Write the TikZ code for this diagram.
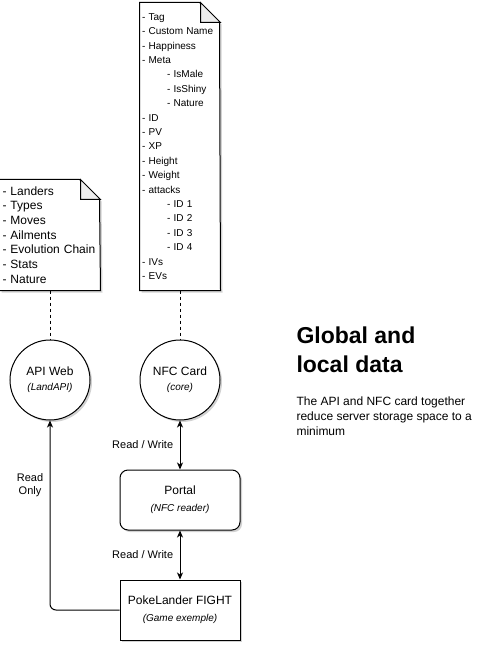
\documentclass[tikz,border=0pt]{standalone}
\usepackage{fontspec}
\setmainfont{Liberation Sans}
\usetikzlibrary{arrows.meta,positioning,shadows}

\newcommand\pxfont[2]{\fontsize{#1}{#2}\selectfont}
\newcommand\subline[1]{{\pxfont{10}{12}\itshape #1}}
\newcommand\sub{\hspace*{25pt}}

\tikzset{
  boxshadow/.style={drop shadow={shadow xshift=2pt,shadow yshift=-2pt,opacity=.25,fill=black!70}},
  notetext/.style={inner sep=0pt,align=left},
  notepath/.style={draw,fill=white,boxshadow},
  notefold/.style={draw,fill=black!7},
  datacircle/.style={circle,draw,fill=white,minimum size=80pt,inner sep=0pt,align=center,font=\pxfont{12}{15},boxshadow},
  procbox/.style={rectangle,draw,fill=white,minimum width=120pt,minimum height=60pt,inner sep=0pt,align=center,font=\pxfont{12}{17},boxshadow},
  link/.style={dash pattern=on 3pt off 3pt},
  tip/.tip={Stealth[length=7pt,width=6pt,inset=2pt]},
  edgelabel/.style={font=\pxfont{11}{13},align=center},
}

\begin{document}
\begin{tikzpicture}[x=1pt,y=-1pt,line width=1pt]
  \useasboundingbox (0,0) rectangle (492,652);

  % data kept by the API
  \node[notetext,minimum width=100pt,minimum height=110pt] (apilist) at (50,235) {};
  \path[notepath] (apilist.north west) -- ++(80,0) -- ++(20,20) -- (apilist.south east) -- (apilist.south west) -- cycle;
  \draw[notefold] ([xshift=-20pt]apilist.north east) -- ++(0,20) -- ++(20,0) -- cycle;
  \node[notetext,text width=97pt,font=\pxfont{12}{14.7}] (apitext) at ([xshift=1pt]apilist)
    {- Landers\\- Types\\- Moves\\- Ailments\\- Evolution Chain\\- Stats\\- Nature};

  % data kept on the card
  \node[notetext,minimum width=80pt,minimum height=287pt] (cardlist) at (180,146.5) {};
  \path[notepath] (cardlist.north west) -- ++(60,0) -- ++(20,20) -- (cardlist.south east) -- (cardlist.south west) -- cycle;
  \draw[notefold] ([xshift=-20pt]cardlist.north east) -- ++(0,20) -- ++(20,0) -- cycle;
  \node[notetext,text width=78pt,font=\pxfont{10}{14.4}] (cardtext) at ([xshift=1pt]cardlist)
    {- Tag\\- Custom Name\\- Happiness\\- Meta\\
    \sub- IsMale\\\sub- IsShiny\\\sub- Nature\\- ID\\- PV\\- XP\\- Height\\- Weight\\- attacks\\
    \sub- ID 1\\\sub- ID 2\\\sub- ID 3\\\sub- ID 4\\- IVs\\- EVs};

  \node[datacircle] (api) at (50,380) {API Web\\\subline{(LandAPI)}};
  \node[datacircle] (nfc) at (180,380) {NFC Card\\\subline{(core)}};
  \node[procbox,rounded corners=8pt] (portal) at (180,500) {Portal\\\subline{(NFC reader)}};
  \node[procbox] (fight) at (180,610) {PokeLander FIGHT\\\subline{(Game exemple)}};

  \draw[link] (apilist) -- (api);
  \draw[link] (cardlist) -- (nfc);
  \draw[tip-tip] (nfc) -- node[edgelabel,left=3pt] {Read / Write} (portal);
  \draw[tip-tip] (portal) -- node[edgelabel,left=3pt] {Read / Write} (fight);
  \draw[-tip,rounded corners=6pt] (fight.west) -| node[edgelabel,pos=.83,left=3pt] {Read\\Only} (api.south);

  \node[anchor=north west,align=left,inner sep=0pt,font=\pxfont{23}{29}\bfseries] (title) at (296,326) {Global and\\local data};
  \node[anchor=north west,align=left,inner sep=0pt,font=\pxfont{12}{15}] (note) at (296,396)
    {The API and NFC card together\\reduce server storage space to a\\minimum};
\end{tikzpicture}
\end{document}
